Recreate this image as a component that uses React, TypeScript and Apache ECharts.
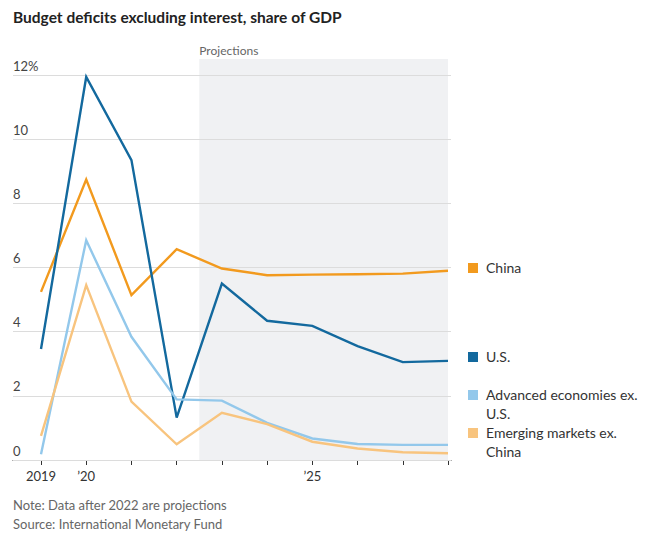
import React, { useEffect, useRef } from "react";
import * as echarts from "echarts";

const years = [2019, 2020, 2021, 2022, 2023, 2024, 2025, 2026, 2027, 2028];
const seriesNames = ["China", "U.S.", "Advanced economies ex.\nU.S.", "Emerging markets ex.\nChina"];
const china = [5.24, 8.74, 5.14, 6.57, 5.97, 5.76, 5.78, 5.79, 5.81, 5.9];
const us = [3.46, 11.94, 9.35, 1.32, 5.5, 4.34, 4.18, 3.55, 3.05, 3.09];
const advanced = [0.18, 6.85, 3.84, 1.89, 1.85, 1.16, 0.67, 0.5, 0.47, 0.47];
const emerging = [0.75, 5.45, 1.82, 0.49, 1.47, 1.12, 0.57, 0.36, 0.24, 0.21];
const yTicks = [0, 2, 4, 6, 8, 10, 12];
const xLabels: Record<number, string> = { 2019: "2019", 2020: "\u201920", 2025: "\u201925" };
const projectionStart = 2022.5;
const projectionEnd = 2028;
const projectionTop = 12.5;

const colors = ["#f29a1e", "#13699e", "#93c8eb", "#f8c47e"];
const FONT = "Lato, 'Noto Sans', sans-serif";

export default function App() {
  const ref = useRef<HTMLDivElement>(null);
  useEffect(() => {
    if (!ref.current) return;
    document.body.style.margin = "0";
    const chart = echarts.init(ref.current, undefined, { renderer: "svg" });
    const allData = [china, us, advanced, emerging];
    const legendTops = [258, 347, 385, 423];
    const graphic: any[] = [
      {
        type: "text",
        left: 13,
        top: 9,
        style: { text: "Budget deficits excluding interest, share of GDP", font: `bold 15.5px ${FONT}`, fill: "#222" },
      },
      {
        type: "text",
        left: 13,
        top: 495,
        style: {
          text: "Note: Data after 2022 are projections\nSource: International Monetary Fund",
          font: `13px ${FONT}`,
          fill: "#666",
          lineHeight: 19,
        },
      },
    ];
    seriesNames.forEach((n, i) => {
      graphic.push({
        type: "rect",
        shape: { x: 468, y: legendTops[i] + 5, width: 10, height: 10 },
        style: { fill: colors[i] },
      });
      graphic.push({
        type: "text",
        x: 486,
        y: legendTops[i],
        style: { text: n, font: `14px ${FONT}`, fill: "#333", lineHeight: 19 },
      });
    });

    chart.setOption({
      animation: false,
      textStyle: { fontFamily: FONT },
      grid: [
        { left: 13, right: 209, top: 75, bottom: 86 },
        { left: 41, right: 212, top: 59, bottom: 86 },
      ],
      xAxis: [
        {
          gridIndex: 0,
          type: "value",
          min: 0,
          max: 1,
          axisLine: { show: true, lineStyle: { color: "#333", width: 1 } },
          axisTick: { show: false },
          axisLabel: { show: false },
          splitLine: { show: false },
        },
        {
          gridIndex: 1,
          type: "value",
          min: years[0],
          max: years[years.length - 1],
          interval: 1,
          axisLine: { show: false },
          axisTick: { show: true, length: 5, lineStyle: { color: "#333" } },
          axisLabel: {
            color: "#333",
            fontSize: 13,
            margin: 9,
            formatter: (v: number) => xLabels[v] ?? "",
          },
          splitLine: { show: false },
        },
      ],
      yAxis: [
        {
          gridIndex: 0,
          type: "value",
          min: yTicks[0],
          max: yTicks[yTicks.length - 1],
          interval: 2,
          z: 1,
          axisLine: { show: false },
          axisTick: { show: false },
          axisLabel: {
            inside: true,
            margin: 0,
            color: "#444",
            fontSize: 13,
            verticalAlign: "bottom",
            padding: [0, 0, 3, 0],
            formatter: (v: number) => (v === 12 ? "12%" : String(v)),
          },
          splitLine: { lineStyle: { color: "#dcdcdc", width: 1 } },
        },
        {
          gridIndex: 1,
          type: "value",
          min: 0,
          max: projectionTop,
          show: false,
          splitLine: { show: false },
        },
      ],
      graphic,
      series: [
        {
          type: "line",
          xAxisIndex: 1,
          yAxisIndex: 1,
          data: [],
          z: 0,
          silent: true,
          markArea: {
            silent: true,
            z: 0,
            itemStyle: { color: "#f0f1f3" },
            label: {
              show: true,
              position: [0, -15],
              color: "#666",
              fontSize: 12,
              fontFamily: FONT,
            },
            data: [
              [
                { name: "Projections", coord: [projectionStart, 0] },
                { coord: [projectionEnd, projectionTop] },
              ],
            ],
          },
        },
        ...allData.map((d, i) => ({
          type: "line",
          name: seriesNames[i],
          xAxisIndex: 1,
          yAxisIndex: 1,
          z: 3,
          data: years.map((y, j) => [y, d[j]]),
          symbol: "none",
          lineStyle: { color: colors[i], width: 2.4, join: "miter" },
          itemStyle: { color: colors[i] },
        })),
      ],
    });
    return () => chart.dispose();
  }, []);
  return <div ref={ref} style={{ width: 660, height: 546 }} />;
}
